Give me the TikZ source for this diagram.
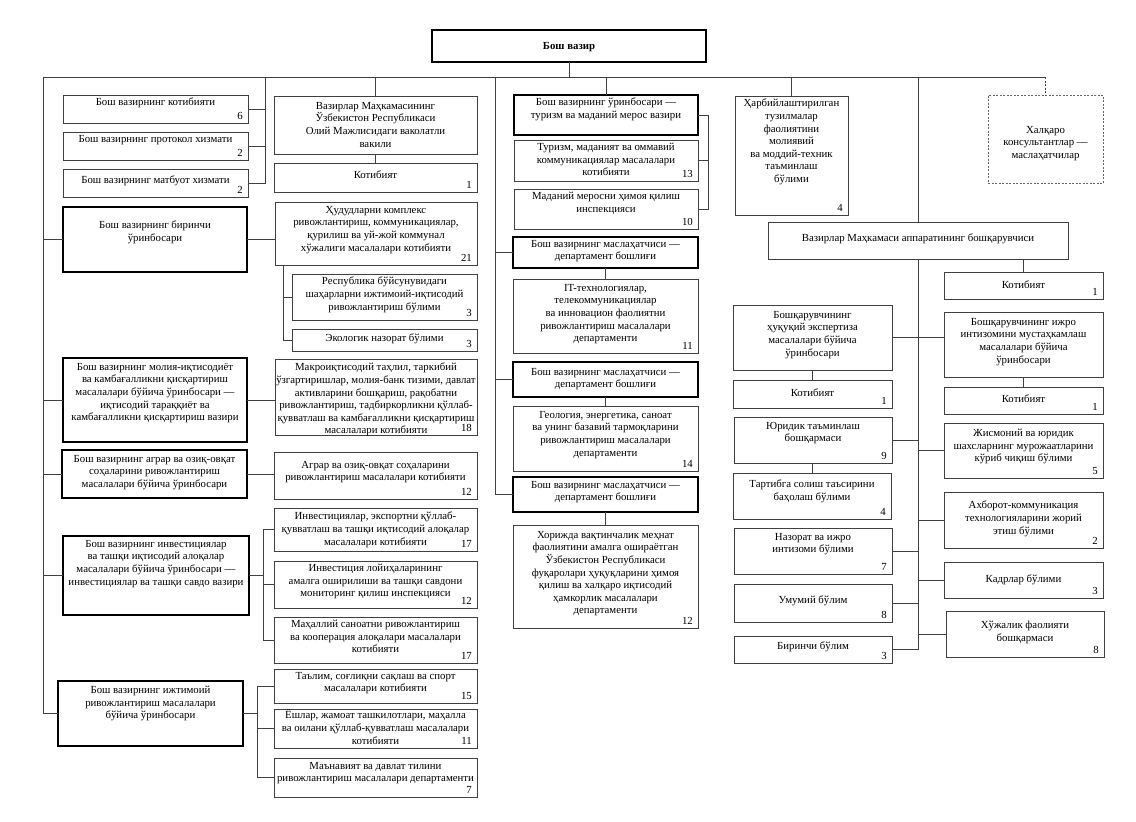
\documentclass[tikz,border=0pt]{standalone}
\usepackage{fontspec}
\setmainfont{Liberation Serif}
\newcommand\ubox[9]{%
 \pgfmathsetmacro\ubw{#5-#3}\pgfmathsetmacro\ubh{#6-#4}%
 \node[#2,minimum width=\ubw pt,minimum height=\ubh pt,anchor=north west] (#1) at (#3,#4) {};%
 \node[txt,anchor=north] (#1t) at ([yshift=-#7pt]#1.north) {#8};%
 \if\relax\detokenize{#9}\relax\else
 \node[num,anchor=south east] (#1n) at ([xshift=-5pt,yshift=3pt]#1.south east) {#9};\fi}
\begin{document}
\begin{tikzpicture}[x=1pt,y=-1pt,
 ln/.style={draw=black!75,line width=0.8pt},
 bx/.style={draw=black!75,line width=0.8pt,rectangle,inner sep=0pt,outer sep=0pt},
 tbx/.style={draw=black,line width=1.8pt,rectangle,inner sep=0pt,outer sep=0pt},
 dbx/.style={draw=black!60,line width=0.8pt,dash pattern=on 2pt off 1.5pt,rectangle,inner sep=0pt,outer sep=0pt},
 txt/.style={inner sep=0pt,align=center,font=\fontsize{10.8}{12.6}\selectfont},
 num/.style={inner sep=0pt,font=\fontsize{10.8}{12.6}\selectfont}]
\path[fill=white] (0,0) rectangle (1136,822);
\useasboundingbox (0,0) rectangle (1136,822);

\ubox{pm}{tbx}{432}{30}{706}{62}{12}{\textbf{Бош вазир}}{}
\ubox{k1}{bx}{63}{95}{248}{123}{3}{Бош вазирнинг котибияти}{6}
\ubox{k2}{bx}{63}{132}{248}{160}{3}{Бош вазирнинг протокол хизмати}{2}
\ubox{k3}{bx}{63}{169}{248}{197}{7}{Бош вазирнинг матбуот хизмати}{2}
\ubox{vk}{bx}{274}{96}{477}{154}{6}{Вазирлар Маҳкамасининг\\Ўзбекистон Республикаси\\Олий Мажлисидаги ваколатли\\вакили}{}
\ubox{vkk}{bx}{274}{163}{477}{192}{8}{Котибият}{1}

\ubox{d1}{tbx}{63}{207}{247}{272}{14}{Бош вазирнинг биринчи\\ўринбосари}{}
\ubox{d2}{tbx}{63}{358}{247}{442}{5}{Бош вазирнинг молия-иқтисодиёт\\ва камбағалликни қисқартириш\\масалалари бўйича ўринбосари —\\иқтисодий тараққиёт ва\\камбағалликни қисқартириш вазири}{}
\ubox{d3}{tbx}{62}{450}{247}{498}{5}{Бош вазирнинг аграр ва озиқ-овқат\\соҳаларини ривожлантириш\\масалалари бўйича ўринбосари}{}
\ubox{d4}{tbx}{63}{536}{249}{615}{4}{Бош вазирнинг инвестициялар\\ва ташқи иқтисодий алоқалар\\масалалари бўйича ўринбосари —\\инвестициялар ва ташқи савдо вазири}{}
\ubox{d5}{tbx}{58}{681}{243}{746}{5}{Бош вазирнинг ижтимоий\\ривожлантириш масалалари\\бўйича ўринбосари}{}

\ubox{m1}{bx}{275}{202}{477}{265}{4}{Ҳудудларни комплекс\\ривожлантириш, коммуникациялар,\\қурилиш ва уй-жой коммунал\\хўжалиги масалалари котибияти}{21}
\ubox{m2}{bx}{292}{274}{477}{320}{3}{Республика бўйсунувидаги\\шаҳарларни ижтимоий-иқтисодий\\ривожлантириш бўлими}{3}
\ubox{m3}{bx}{292}{329}{477}{351}{5}{Экологик назорат бўлими}{3}
\ubox{m4}{bx}{275}{359}{477}{435}{4}{Макроиқтисодий таҳлил, таркибий\\ўзгартиришлар, молия-банк тизими, давлат\\активларини бошқариш, рақобатни\\ривожлантириш, тадбиркорликни қўллаб-\\қувватлаш ва камбағалликни қисқартириш\\масалалари котибияти}{18}
\ubox{m5}{bx}{274}{452}{477}{499}{9}{Аграр ва озиқ-овқат соҳаларини\\ривожлантириш масалалари котибияти}{12}
\ubox{m6}{bx}{274}{508}{477}{551}{4}{Инвестициялар, экспортни қўллаб-\\қувватлаш ва ташқи иқтисодий алоқалар\\масалалари котибияти}{17}
\ubox{m7}{bx}{274}{561}{477}{608}{3}{Инвестиция лойиҳаларининг\\амалга оширилиши ва ташқи савдони\\мониторинг қилиш инспекцияси}{12}
\ubox{m8}{bx}{274}{617}{477}{663}{3}{Маҳаллий саноатни ривожлантириш\\ва кооперация алоқалари масалалари\\котибияти}{17}
\ubox{m9}{bx}{274}{669}{477}{703}{3}{Таълим, соғлиқни сақлаш ва спорт\\масалалари котибияти}{15}
\ubox{m10}{bx}{274}{709}{477}{748}{1}{Ёшлар, жамоат ташкилотлари, маҳалла\\ва оилани қўллаб-қувватлаш масалалари\\котибияти}{11}
\ubox{m11}{bx}{274}{758}{477}{797}{4}{Маънавият ва давлат тилини\\ривожлантириш масалалари департаменти}{7}

\ubox{t1}{tbx}{514}{95}{698}{135}{3}{Бош вазирнинг ўринбосари —\\туризм ва маданий мерос вазири}{}
\ubox{t2}{bx}{514}{140}{698}{181}{3}{Туризм, маданият ва оммавий\\коммуникациялар масалалари\\котибияти}{13}
\ubox{t3}{bx}{514}{189}{698}{229}{3}{Маданий меросни ҳимоя қилиш\\инспекцияси}{10}
\ubox{a1}{tbx}{513}{237}{698}{268}{3}{Бош вазирнинг маслаҳатчиси —\\департамент бошлиғи}{}
\ubox{a1d}{bx}{513}{279}{698}{353}{5}{IT-технологиялар,\\телекоммуникациялар\\ва инновацион фаолиятни\\ривожлантириш масалалари\\департаменти}{11}
\ubox{a2}{tbx}{513}{362}{698}{397}{6}{Бош вазирнинг маслаҳатчиси —\\департамент бошлиғи}{}
\ubox{a2d}{bx}{513}{406}{698}{471}{5}{Геология, энергетика, саноат\\ва унинг базавий тармоқларини\\ривожлантириш масалалари\\департаменти}{14}
\ubox{a3}{tbx}{513}{477}{698}{512}{4}{Бош вазирнинг маслаҳатчиси —\\департамент бошлиғи}{}
\ubox{a3d}{bx}{513}{525}{698}{628}{6}{Хорижда вақтинчалик меҳнат\\фаолиятини амалга ошираётган\\Ўзбекистон Республикаси\\фуқаролари ҳуқуқларини ҳимоя\\қилиш ва халқаро иқтисодий\\ҳамкорлик масалалари\\департаменти}{12}

\ubox{h}{bx}{735}{96}{848}{215}{3}{Ҳарбийлаштирилган\\тузилмалар\\фаолиятини\\молиявий\\ва моддий-техник\\таъминлаш\\бўлими}{4}
\ubox{xk}{dbx}{988}{95}{1103}{183}{31}{Халқаро\\консультантлар —\\маслаҳатчилар}{}

\ubox{b}{bx}{768}{222}{1068}{259}{12}{Вазирлар Маҳкамаси аппаратининг бошқарувчиси}{}
\ubox{bk}{bx}{944}{272}{1103}{299}{9}{Котибият}{1}
\ubox{bl}{bx}{733}{305}{892}{370}{6}{Бошқарувчининг\\ҳуқуқий экспертиза\\масалалари бўйича\\ўринбосари}{}
\ubox{br}{bx}{944}{312}{1103}{377}{6}{Бошқарувчининг ижро\\интизомини мустаҳкамлаш\\масалалари бўйича\\ўринбосари}{}
\ubox{blk}{bx}{733}{380}{892}{408}{9}{Котибият}{1}
\ubox{brk}{bx}{944}{387}{1103}{414}{8}{Котибият}{1}
\ubox{l1}{bx}{734}{417}{892}{463}{5}{Юридик таъминлаш\\бошқармаси}{9}
\ubox{l2}{bx}{733}{473}{891}{519}{7}{Тартибга солиш таъсирини\\баҳолаш бўлими}{4}
\ubox{l3}{bx}{734}{528}{892}{574}{5}{Назорат ва ижро\\интизоми бўлими}{7}
\ubox{l4}{bx}{734}{584}{892}{622}{12}{Умумий бўлим}{8}
\ubox{l5}{bx}{734}{636}{892}{663}{6}{Биринчи бўлим}{3}
\ubox{r1}{bx}{944}{423}{1103}{478}{6}{Жисмоний ва юридик\\шахсларнинг мурожаатларини\\кўриб чиқиш бўлими}{5}
\ubox{r2}{bx}{944}{492}{1103}{548}{9}{Ахборот-коммуникация\\технологияларини жорий\\этиш бўлими}{2}
\ubox{r3}{bx}{944}{562}{1103}{598}{13}{Кадрлар бўлими}{3}
\ubox{r4}{bx}{946}{611}{1104}{657}{10}{Хўжалик фаолияти\\бошқармаси}{8}

% connectors
\coordinate (busL) at (43,77);
\coordinate (kj) at (265,77);
\coordinate (cj) at (495,77);
\draw[ln] (pm.south) -- (pm.south |- busL);
\draw[ln] (busL) -- (busL -| xk.north);
\draw[ln] (busL) |- (d5.west);
\foreach \n in {d1,d2,d3,d4} \draw[ln] (\n.west) -- (\n.west -| busL);
\draw[ln] (kj) |- (k3.east);
\draw[ln] (k1.east) -- (k1.east -| kj);
\draw[ln] (k2.east) -- (k2.east -| kj);
\draw[ln] (vk.north |- busL) -- (vk.north);
\draw[ln] (vk.south) -- (vkk.north);
\draw[ln] (cj) |- (a3.west);
\draw[ln] (a1.west) -- (a1.west -| cj);
\draw[ln] (a2.west) -- (a2.west -| cj);
\draw[ln] (d1.east) -- (d1.east -| m1.west);
\coordinate (m1j) at ([xshift=8pt]m1.south west);
\draw[ln] (m1j) |- (m3.west);
\draw[ln] (m2.west) -- (m2.west -| m1j);
\draw[ln] (d2.east) -- (d2.east -| m4.west);
\draw[ln] (d3.east) -- (d3.east -| m5.west);
\coordinate (j4) at ([xshift=-11pt]m6.west);
\draw[ln] (m6.west) -- (j4) |- (m8.west);
\draw[ln] (m7.west) -- (m7.west -| j4);
\draw[ln] (d4.east) -- (d4.east -| j4);
\coordinate (j5) at ([xshift=-17pt]m9.west);
\draw[ln] (m9.west) -- (j5) |- (m11.west);
\draw[ln] (m10.west) -- (m10.west -| j5);
\draw[ln] (d5.east) -- (d5.east -| j5);
\draw[ln] (t1.north |- busL) -- (t1.north);
\coordinate (tj) at ([xshift=10pt]t1.east);
\draw[ln] (t1.east) -- (tj) |- (t3.east);
\draw[ln] (t2.east) -- (t2.east -| tj);
\draw[ln] (a1.south) -- (a1d.north);
\draw[ln] (a2.south) -- (a2d.north);
\draw[ln] (a3.south) -- (a3d.north);
\draw[ln] (h.north |- busL) -- (h.north);
\draw[ln] (b.north |- busL) -- (b.north);
\draw[ln,dash pattern=on 2pt off 1.5pt] (xk.north |- busL) -- (xk.north);
\draw[ln] (b.south) -- (b.south |- l5.east);
\draw[ln] (bk.north) -- (bk.north |- b.south);
\draw[ln] (bl.east) -- (bl.east -| br.west);
\draw[ln] (bl.south) -- (blk.north);
\draw[ln] (br.south) -- (brk.north);
\draw[ln] (l2.north) -- (l2.north |- l1.south);
\foreach \n in {l1,l3,l4,l5} \draw[ln] (\n.east) -- (\n.east -| b.south);
\foreach \n in {r1,r2,r3,r4} \draw[ln] (\n.west) -- (\n.west -| b.south);
\end{tikzpicture}
\end{document}
